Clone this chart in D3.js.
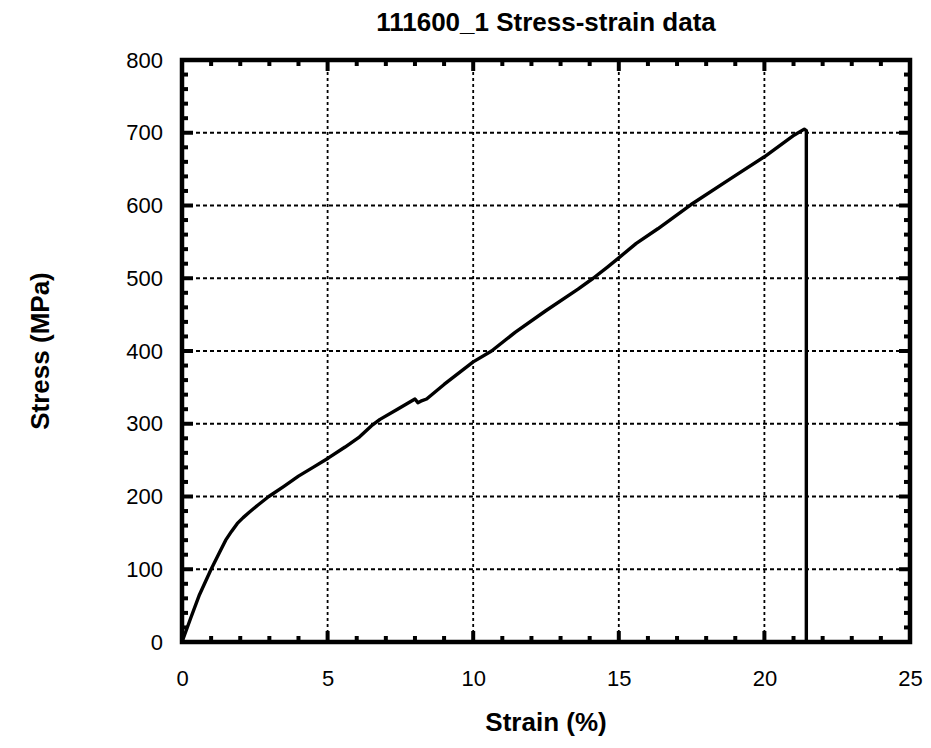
<!DOCTYPE html>
<html><head><meta charset="utf-8">
<script src="https://cdn.jsdelivr.net/npm/d3@7"></script>
<style>body{margin:0;background:#fff}svg{display:block}text{font-family:"Liberation Sans",Arial,Helvetica,sans-serif}</style>
</head><body><svg id="c" width="931" height="748"></svg>
<script>
const title = "111600_1 Stress-strain data";
const xLabel = "Strain (%)";
const yLabel = "Stress (MPa)";
const xTicks = [0,5,10,15,20,25];
const yTicks = [0,100,200,300,400,500,600,700,800];
const strain = [0,0.3,0.6,1.0,1.3,1.5,1.7,1.9,2.1,2.3,2.6,2.98,3.5,4.0,4.5,5.03,5.6,6.1,6.5,6.8,7.4,8.0,8.1,8.2,8.4,9.0,10.0,10.63,11.45,12.48,13.6,14.12,14.6,15.0,15.6,16.34,17.47,18.84,20.0,21.03,21.37,21.44,21.44];
const stress = [0,33,65,100,124,140,152,163,171,178,188,200,214,228,240,253,268,282,297,306,320,334,329,331,334,354,385,400,426,455,485,500,515,528,548,568,601,637,667,697,705,703,0];

const svg = d3.select("#c");
const L=182, R=910, T=60, B=642;
const x = d3.scaleLinear().domain([0,25]).range([L,R]);
const y = d3.scaleLinear().domain([0,800]).range([B,T]);

// grid
const g = svg.append("g");
g.selectAll("line.gx").data(xTicks.slice(1,-1)).join("line")
  .attr("x1",d=>x(d)).attr("x2",d=>x(d)).attr("y1",T).attr("y2",B)
  .attr("stroke","#000").attr("stroke-width",1.8).attr("stroke-dasharray","3,3");
g.selectAll("line.gy").data(yTicks.slice(1,-1)).join("line")
  .attr("y1",d=>y(d)).attr("y2",d=>y(d)).attr("x1",L).attr("x2",R)
  .attr("stroke","#000").attr("stroke-width",1.8).attr("stroke-dasharray","4,3");

// ticks
const xMinor = d3.range(0,26,1), yMinor = d3.range(0,801,20);
function tk(vals, major, horiz){
  vals.forEach(v=>{
    const isMaj = major.includes(v);
    const len = isMaj?11:6;
    if(horiz){
      const px=x(v);
      svg.append("line").attr("x1",px).attr("x2",px).attr("y1",B).attr("y2",B-len).attr("stroke","#000").attr("stroke-width",4);
      svg.append("line").attr("x1",px).attr("x2",px).attr("y1",T).attr("y2",T+len).attr("stroke","#000").attr("stroke-width",4);
    } else {
      const py=y(v);
      svg.append("line").attr("y1",py).attr("y2",py).attr("x1",L).attr("x2",L+len).attr("stroke","#000").attr("stroke-width",4);
      svg.append("line").attr("y1",py).attr("y2",py).attr("x1",R).attr("x2",R-len).attr("stroke","#000").attr("stroke-width",4);
    }
  });
}
tk(xMinor,xTicks,true); tk(yMinor,yTicks,false);

// frame
svg.append("rect").attr("x",L).attr("y",T).attr("width",R-L).attr("height",B-T)
  .attr("fill","none").attr("stroke","#000").attr("stroke-width",4.5);

// axes labels via d3 axes (text only)
const xa = svg.append("g").attr("transform",`translate(0,${B})`)
  .call(d3.axisBottom(x).tickValues(xTicks).tickSize(0).tickPadding(28));
const ya = svg.append("g").attr("transform",`translate(${L},0)`)
  .call(d3.axisLeft(y).tickValues(yTicks).tickSize(0).tickPadding(19));
[xa,ya].forEach(a=>{a.select(".domain").remove();a.selectAll("text").attr("font-size",22).attr("fill","#000").style("font-family","Liberation Sans, Arial, sans-serif");});

// data line
const pts = strain.map((s,i)=>[s,stress[i]]);
svg.append("path").datum(pts)
  .attr("d",d3.line().x(d=>x(d[0])).y(d=>y(d[1])).curve(d3.curveLinear))
  .attr("fill","none").attr("stroke","#000").attr("stroke-width",3.4).attr("stroke-linejoin","round");

svg.append("text").attr("x",(L+R)/2).attr("y",31).attr("text-anchor","middle")
  .attr("font-size",26).attr("font-weight","bold").text(title);
svg.append("text").attr("x",(L+R)/2).attr("y",731).attr("text-anchor","middle")
  .attr("font-size",26).attr("font-weight","bold").text(xLabel);
svg.append("text").attr("transform",`translate(49,${(T+B)/2}) rotate(-90)`).attr("text-anchor","middle")
  .attr("font-size",26).attr("font-weight","bold").text(yLabel);
</script></body></html>
